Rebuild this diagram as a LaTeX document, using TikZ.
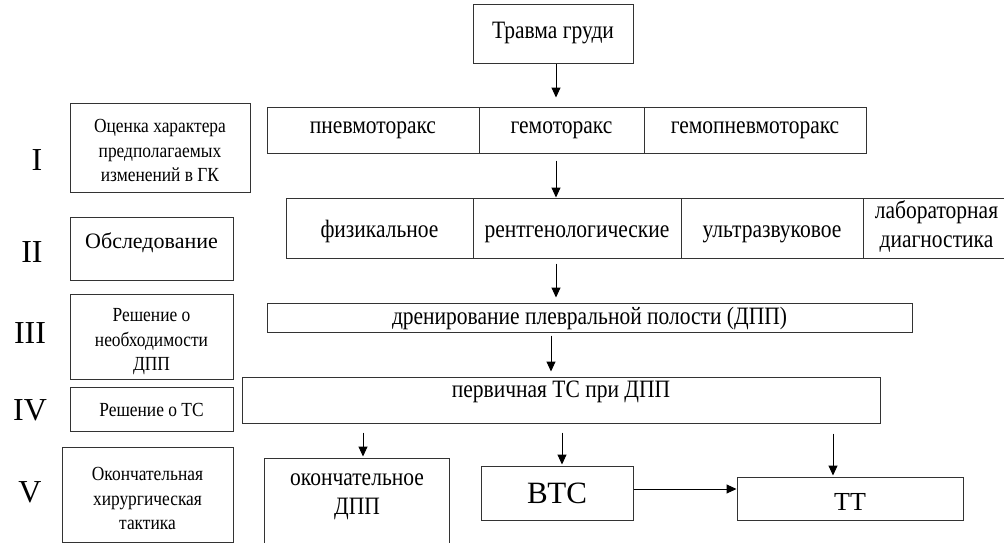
\documentclass[tikz,border=0pt]{standalone}
\usepackage{fontspec}
\setmainfont{Liberation Serif}
\newfontfamily\condf[FakeStretch=0.86]{Liberation Serif}
\newfontfamily\condl[FakeStretch=0.87]{Liberation Serif}
\usetikzlibrary{arrows.meta}
\begin{document}
\begin{tikzpicture}[x=1pt,y=-1pt,
  box/.style={draw=black!80, line width=1pt, rectangle, inner sep=0pt, anchor=center},
  arr/.style={-{Triangle[length=10pt,width=9pt]}, line width=1pt},
  maintxt/.style={font=\condf\fontsize{25}{29}\selectfont},
  multi/.style={align=center, execute at begin node=\strut, execute at end node=\strut},
  lefttxt/.style={font=\condl\fontsize{20}{24.5}\selectfont},
  hd/.style 2 args={text height=#1pt, text depth=#2pt},
  roman/.style={font=\fontsize{32}{32}\selectfont}]
\clip (0,0) rectangle (1004,543);
\fill[white] (0,0) rectangle (1004,543);

% top
\node[box, minimum width=160pt, minimum height=59pt, maintxt, hd={18}{10.4}] (top) at (553,34.5) {Травма груди};

% row 1
\node[box, minimum width=212pt, minimum height=46pt, maintxt, hd={18}{11.4}] (p1) at (373,130) {пневмоторакс};
\node[box, minimum width=165pt, minimum height=46pt, maintxt, hd={18}{11.4}] (p2) at (561.5,130) {гемоторакс};
\node[box, minimum width=222pt, minimum height=46pt, maintxt, hd={18}{11.4}] (p3) at (755,130) {гемопневмоторакс};

% row 2
\node[box, minimum width=187pt, minimum height=60pt, maintxt, hd={20}{2}] (f1) at (379.5,228) {физикальное};
\node[box, minimum width=208pt, minimum height=60pt, maintxt, hd={20}{2}] (f2) at (577,228) {рентгенологические};
\node[box, minimum width=182pt, minimum height=60pt, maintxt, hd={20}{2}] (f3) at (772,228) {ультразвуковое};
\node[box, minimum width=147pt, minimum height=60pt, maintxt, multi] (f4) at (936.5,228) {лабораторная\\диагностика};

% row 3
\node[box, minimum width=645pt, minimum height=29pt, maintxt, hd={16}{3}] (d) at (589.5,317.5) {дренирование плевральной полости (ДПП)};

% row 4
\node[box, minimum width=638pt, minimum height=46pt, maintxt, hd={4}{10}] (r4) at (561,400) {первичная ТС при ДПП};

% row 5
\node[box, minimum width=185pt, minimum height=104pt] (ok) at (356.5,510) {};
\node[maintxt, multi, inner sep=0pt] (okt) at (357,498.7) {окончательное\\ДПП};
\node[box, minimum width=152pt, minimum height=54pt, font=\fontsize{31}{31}\selectfont, hd={24}{3.4}] (btc) at (557,493) {ВТС};
\node[box, minimum width=226pt, minimum height=43pt, font=\fontsize{26}{26}\selectfont, hd={25}{2}] (tt) at (850,498.5) {ТТ};

% left column
\node[box, minimum width=180pt, minimum height=89pt, lefttxt, multi] (b1) at (160,147.5) {\rule{0pt}{26.5pt}Оценка характера\\предполагаемых\\изменений в ГК};
\node[box, minimum width=163pt, minimum height=63pt, font=\fontsize{22}{22}\selectfont, hd={8}{8}] (b2) at (151.5,248.5) {Обследование};
\node[box, minimum width=163pt, minimum height=85pt, lefttxt, multi] (b3) at (151.5,336.5) {\rule{0pt}{26.5pt}Решение о\\необходимости\\ДПП};
\node[box, minimum width=163pt, minimum height=44pt, lefttxt, hd={16}{2}] (b4) at (151.5,409) {Решение о ТС};
\node[box, minimum width=171pt, minimum height=95pt, lefttxt, multi] (b5) at (147.5,494.5) {\rule{0pt}{29pt}Окончательная\\хирургическая\\тактика};

% roman numerals
\node[roman] (n1) at (37,160) {I};
\node[roman] (n2) at (32,252) {II};
\node[roman] (n3) at (30,333) {III};
\node[roman] (n4) at (30,410) {IV};
\node[roman] (n5) at (30,492) {V};

% arrow x positions
\coordinate (ax1) at (556,0);
\coordinate (ax2) at (551,0);
\coordinate (ax3) at (363,0);
\coordinate (ax4) at (562,0);
\coordinate (ax5) at (833,0);
\coordinate (ay) at (0,489);

\draw[arr, shorten >=9pt] (top.south -| ax1) -- (p2.north -| ax1);
\draw[arr, shorten <=7pt] (p2.south -| ax1) -- (f2.north -| ax1);
\draw[arr, shorten <=5pt, shorten >=5pt] (f2.south -| ax1) -- (d.north -| ax1);
\draw[arr, shorten <=3pt, shorten >=5pt] (d.south -| ax2) -- (r4.north -| ax2);
\draw[arr, shorten <=9pt, shorten >=1pt] (r4.south -| ax3) -- (ok.north -| ax3);
\draw[arr, shorten <=9pt, shorten >=1pt] (r4.south -| ax4) -- (btc.north -| ax4);
\draw[arr] (btc.east |- ay) -- (tt.west |- ay);
\draw[arr, shorten <=10pt, shorten >=1pt] (r4.south -| ax5) -- (tt.north -| ax5);
\end{tikzpicture}
\end{document}
